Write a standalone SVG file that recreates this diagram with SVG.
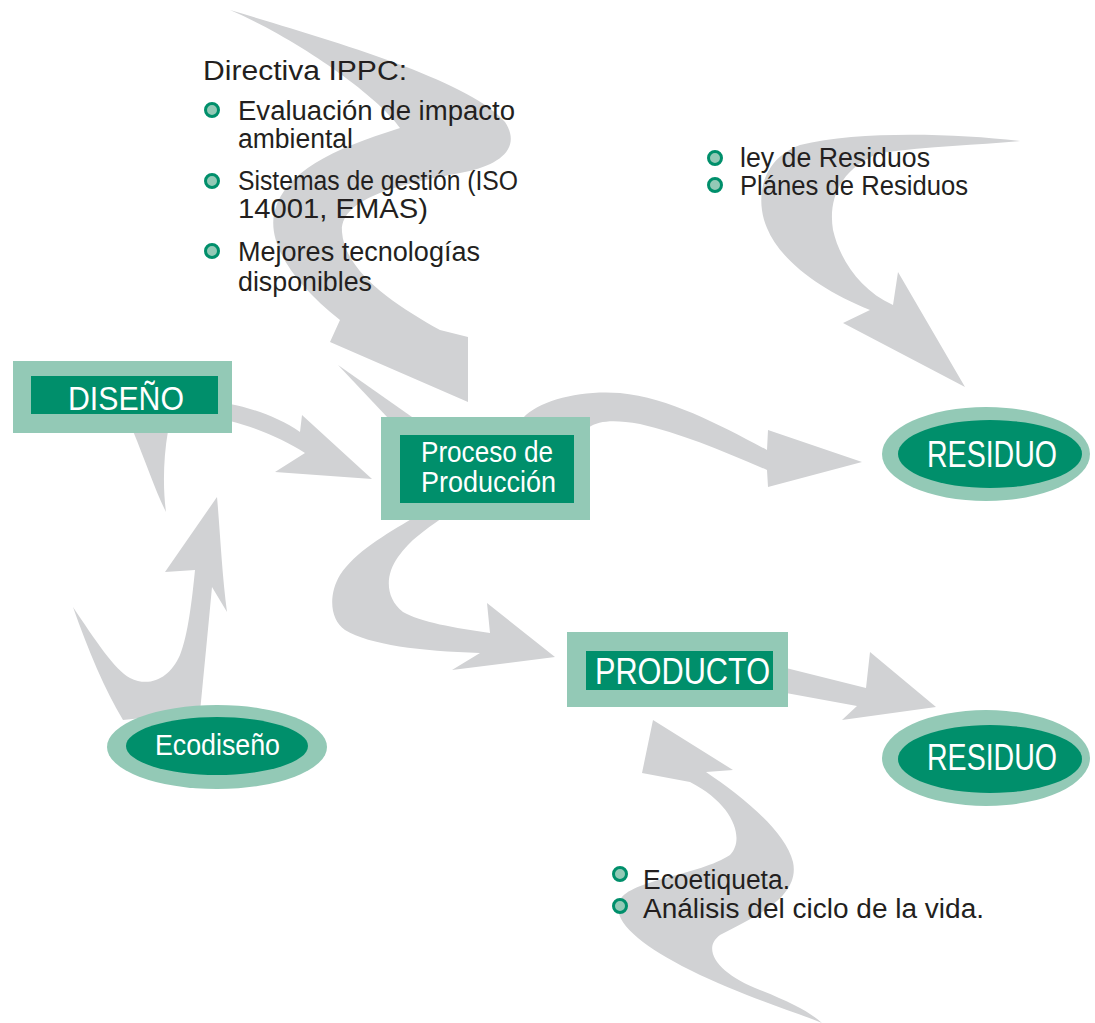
<svg xmlns="http://www.w3.org/2000/svg" width="1095" height="1023" viewBox="0 0 1095 1023">
<style>
.arr{fill:#d1d2d4;stroke:none}
.outer{fill:#93c9b6}
.inner{fill:#008f6b}
.lbl{font-family:"Liberation Sans",Arial,sans-serif;fill:#ffffff}
.txt{font-family:"Liberation Sans",Arial,sans-serif;fill:#231f20;font-size:27px}
.bul{fill:#93c9b6;stroke:#008f6b;stroke-width:3}
</style>
<rect x="0" y="0" width="1095" height="1023" fill="#ffffff"/>
<g id="connectors">
  <!-- IPPC swoosh into Proceso -->
  <path class="arr" d="M230,10 C330,40 470,80 505,122 C522,148 500,166 460,173 C400,184 340,198 342,232 C345,272 395,305 440,330 L468,337 L468,402 L330,342 L340,320 C292,282 266,242 275,210 C286,172 330,150 400,128 C380,98 300,40 230,10 Z"/>
  <path class="arr" d="M338,365 L412,417 L388,418 Z"/>
  <!-- DISEÑO -> Proceso -->
  <path class="arr" d="M230,404 C252,408 280,418 300,432 L302,415 L372,479 L275,472 L305,453 C285,440 258,428 230,421 Z"/>
  <!-- wedge below DISEÑO -->
  <path class="arr" d="M133,431 L168,431 C163,460 163,490 166,512 C155,490 145,460 133,431 Z"/>
  <!-- Ecodiseño -> DISEÑO -->
  <path class="arr" d="M73,607 C95,640 115,670 130,678 C150,688 170,678 180,655 C188,635 192,600 195,570 L165,572 L217,497 C220,530 222,575 227,612 L212,587 C208,630 204,670 200,712 L123,720 C105,690 88,650 73,607 Z"/>
  <!-- Proceso -> PRODUCTO -->
  <path class="arr" d="M413,518 C385,535 355,552 340,575 C328,595 330,620 345,630 C370,645 420,651 480,653 L452,670 L555,657 L487,603 L490,633 C455,628 420,622 403,612 C385,598 385,575 398,557 C410,540 425,530 442,518 Z"/>
  <!-- Proceso -> RESIDUO top -->
  <path class="arr" d="M523,418 C540,400 580,390 620,393 C670,398 720,425 767,450 L768,430 L862,462 L768,487 L767,470 C720,450 680,433 640,424 C615,420 600,420 588,428 L588,418 Z"/>
  <!-- Ley de Residuos -> RESIDUO -->
  <path class="arr" d="M1020,141 C960,134 860,130 800,145 C760,160 755,200 767,228 C780,260 820,290 870,310 L843,323 L965,387 L898,272 L893,305 C860,290 840,260 833,230 C828,200 840,168 880,153 C930,146 980,145 1020,141 Z"/>
  <!-- PRODUCTO -> RESIDUO bottom -->
  <path class="arr" d="M786,668 L866,688 L870,652 L936,707 L842,720 L857,706 L786,693 Z"/>
  <!-- Ecoetiqueta swoosh up to PRODUCTO -->
  <path class="arr" d="M653,720 L733,770 L706,772 C740,795 785,830 793,862 C800,895 760,915 720,935 C700,950 720,975 760,990 C790,1002 810,1012 822,1023 C790,1010 740,995 690,970 C640,945 610,920 620,900 C630,880 700,875 730,855 C745,840 735,805 690,782 L642,773 Z"/>
</g>
<g id="node-diseno">
  <rect class="outer" x="13" y="361" width="219" height="72"/>
  <rect class="inner" x="31" y="376" width="187" height="38"/>
  <text class="lbl" x="68" y="410" font-size="34" textLength="116" lengthAdjust="spacingAndGlyphs">DISEÑO</text>
</g>
<g id="node-proceso">
  <rect class="outer" x="381" y="417" width="209" height="103"/>
  <rect class="inner" x="400" y="435" width="174" height="68"/>
  <text class="lbl" x="421" y="462" font-size="30" textLength="132" lengthAdjust="spacingAndGlyphs">Proceso de</text>
  <text class="lbl" x="421" y="492" font-size="30" textLength="135" lengthAdjust="spacingAndGlyphs">Producción</text>
</g>
<g id="node-producto">
  <rect class="outer" x="567" y="632" width="221" height="75"/>
  <rect class="inner" x="586" y="651" width="187" height="39"/>
  <text class="lbl" x="595" y="684" font-size="36" textLength="175" lengthAdjust="spacingAndGlyphs">PRODUCTO</text>
</g>
<g id="node-residuo1">
  <ellipse class="outer" cx="986" cy="454" rx="104" ry="47"/>
  <ellipse class="inner" cx="990" cy="454" rx="92" ry="34"/>
  <text class="lbl" x="927" y="467" font-size="36" textLength="130" lengthAdjust="spacingAndGlyphs">RESIDUO</text>
</g>
<g id="node-residuo2">
  <ellipse class="outer" cx="986" cy="758" rx="104" ry="48"/>
  <ellipse class="inner" cx="990" cy="759" rx="92" ry="34"/>
  <text class="lbl" x="927" y="770" font-size="36" textLength="130" lengthAdjust="spacingAndGlyphs">RESIDUO</text>
</g>
<g id="node-ecodiseno">
  <ellipse class="outer" cx="217" cy="747" rx="110" ry="42"/>
  <ellipse class="inner" cx="217" cy="746" rx="91" ry="29"/>
  <text class="lbl" x="155" y="755" font-size="30" textLength="125" lengthAdjust="spacingAndGlyphs">Ecodiseño</text>
</g>
<g id="note-ippc">
  <text class="txt" x="203" y="80" font-size="30" textLength="204" lengthAdjust="spacingAndGlyphs">Directiva IPPC:</text>
  <circle class="bul" cx="212" cy="110" r="6.5"/>
  <text class="txt" x="238" y="120" textLength="277" lengthAdjust="spacingAndGlyphs">Evaluación de impacto</text>
  <text class="txt" x="238" y="148" textLength="115" lengthAdjust="spacingAndGlyphs">ambiental</text>
  <circle class="bul" cx="212" cy="181" r="6.5"/>
  <text class="txt" x="238" y="190" textLength="280" lengthAdjust="spacingAndGlyphs">Sistemas de gestión (ISO</text>
  <text class="txt" x="238" y="218" textLength="190" lengthAdjust="spacingAndGlyphs">14001, EMAS)</text>
  <circle class="bul" cx="212" cy="251" r="6.5"/>
  <text class="txt" x="238" y="261" textLength="242" lengthAdjust="spacingAndGlyphs">Mejores tecnologías</text>
  <text class="txt" x="238" y="291" textLength="134" lengthAdjust="spacingAndGlyphs">disponibles</text>
</g>
<g id="note-residuos">
  <circle class="bul" cx="715" cy="158" r="6.5"/>
  <text class="txt" x="740" y="167" font-size="24" textLength="190" lengthAdjust="spacingAndGlyphs">ley de Residuos</text>
  <circle class="bul" cx="715" cy="185" r="6.5"/>
  <text class="txt" x="740" y="195" font-size="24" textLength="228" lengthAdjust="spacingAndGlyphs">Plánes de Residuos</text>
</g>
<g id="note-producto">
  <circle class="bul" cx="620" cy="874" r="6.5"/>
  <text class="txt" x="643" y="889" textLength="147" lengthAdjust="spacingAndGlyphs">Ecoetiqueta.</text>
  <circle class="bul" cx="620" cy="906" r="6.5"/>
  <text class="txt" x="643" y="918" textLength="341" lengthAdjust="spacingAndGlyphs">Análisis del ciclo de la vida.</text>
</g>
</svg>
